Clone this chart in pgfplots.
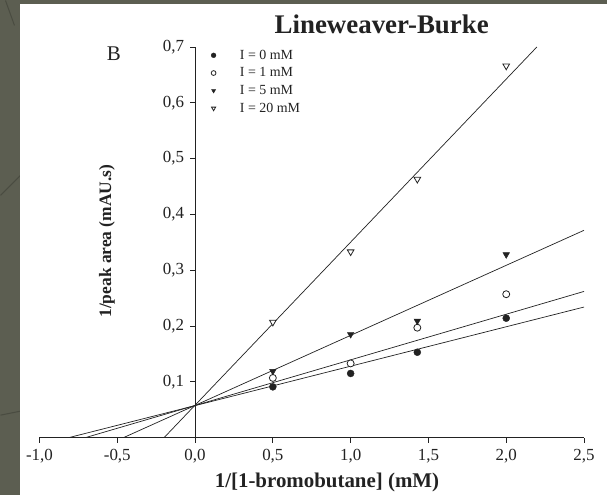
\documentclass[border=0pt]{standalone}
\usepackage{pgfplots}
\pgfplotsset{compat=1.18}
\usepackage{fontspec}
\setmainfont{Liberation Serif}
\definecolor{bgcol}{HTML}{5C5E51}
\definecolor{bgline}{HTML}{4A4C41}
\definecolor{ink}{HTML}{222222}
\begin{document}
\begin{tikzpicture}
% background panel
\fill[bgcol] (0bp,0bp) rectangle (607bp,495bp);
\draw[bgline, line width=1bp] (0bp,80bp) -- (20bp,84bp);
\draw[bgline, line width=1bp] (0bp,300bp) -- (20bp,320bp);
\draw[bgline, line width=1bp] (5bp,495bp) -- (14bp,470bp);
\fill[white] (20bp,0bp) rectangle (607bp,491bp);
\begin{axis}[
  at={(39bp,57.5bp)}, anchor=south west,
  scale only axis, width=545bp, height=391bp,
  xmin=-1, xmax=2.5, ymin=0, ymax=0.7,
  axis x line=bottom, axis y line=middle,
  hide obscured x ticks=false, hide obscured y ticks=false,
  axis line style={-, line width=0.8bp, color=ink},
  tick style={line width=0.8bp, color=ink},
  tick align=outside, major tick length=5bp,
  xtick={-1,-0.5,0,0.5,1,1.5,2,2.5},
  ytick={0.1,0.2,0.3,0.4,0.5,0.6,0.7},
  minor tick num=0,
  /pgf/number format/.cd, use comma, fixed, fixed zerofill, precision=1, assume math mode=true,
  /pgfplots/.cd,
  tick label style={font=\fontsize{17}{19}\selectfont, text=ink},
  xticklabel style={yshift=-3bp},
  yticklabel style={xshift=-2.5bp},
  xlabel={1/[1-bromobutane] (mM)},
  ylabel={1/peak area (mAU.s)},
  xlabel style={at={(axis description cs:0.528,-0.116)}, anchor=center, font=\bfseries\fontsize{21}{23}\selectfont, text=ink},
  ylabel style={at={(axis description cs:0.124,0.503)}, anchor=center, rotate=90, font=\bfseries\fontsize{17.5}{19}\selectfont, text=ink},
  legend style={at={(axis description cs:0.315,0.998)}, anchor=north west, draw=none, fill=none, inner sep=0pt,
    font=\fontsize{14}{15}\selectfont, row sep=3bp, column sep=22bp, text=ink},
  legend cell align=left,
  legend image code/.code={\draw[#1, mark size=2.4bp] plot coordinates {(0bp,0bp)};},
  clip=true,
]
% fitted lines
\addplot[forget plot, ink, line width=0.7bp] coordinates {(-0.812,0) (2.5,0.234)};
\addplot[forget plot, ink, line width=0.7bp] coordinates {(-0.705,0) (2.5,0.262)};
\addplot[forget plot, ink, line width=0.7bp] coordinates {(-0.46,0) (2.5,0.3715)};
\addplot[forget plot, ink, line width=0.7bp] coordinates {(-0.199,0) (2.197,0.70)};
% data
\addplot[only marks, mark=*, mark size=3.5bp, mark options={draw=ink, fill=ink}]
  coordinates {(0.5,0.091) (1,0.115) (1.4286,0.153) (2,0.214)};
\addlegendentry{I = 0 mM}
\addplot[only marks, mark=*, mark size=3.5bp, mark options={draw=ink, fill=white, line width=0.8bp}]
  coordinates {(0.5,0.107) (1,0.133) (1.4286,0.197) (2,0.257)};
\addlegendentry{I = 1 mM}
\addplot[only marks, mark=triangle*, mark size=3.8bp, mark options={rotate=180, draw=ink, fill=ink}]
  coordinates {(0.5,0.119) (1,0.185) (1.4286,0.209) (2,0.328)};
\addlegendentry{I = 5 mM}
\addplot[only marks, mark=triangle*, mark size=3.8bp, mark options={rotate=180, draw=ink, fill=white, line width=0.8bp}]
  coordinates {(0.5,0.207) (1,0.333) (1.4286,0.463) (2,0.666)};
\addlegendentry{I = 20 mM}
\end{axis}
\node[font=\bfseries\fontsize{27}{29}\selectfont, text=ink] at (381.5bp,471bp) {Lineweaver-Burke};
\node[font=\fontsize{21}{23}\selectfont, text=ink] at (113.5bp,441.5bp) {B};
\end{tikzpicture}
\end{document}
